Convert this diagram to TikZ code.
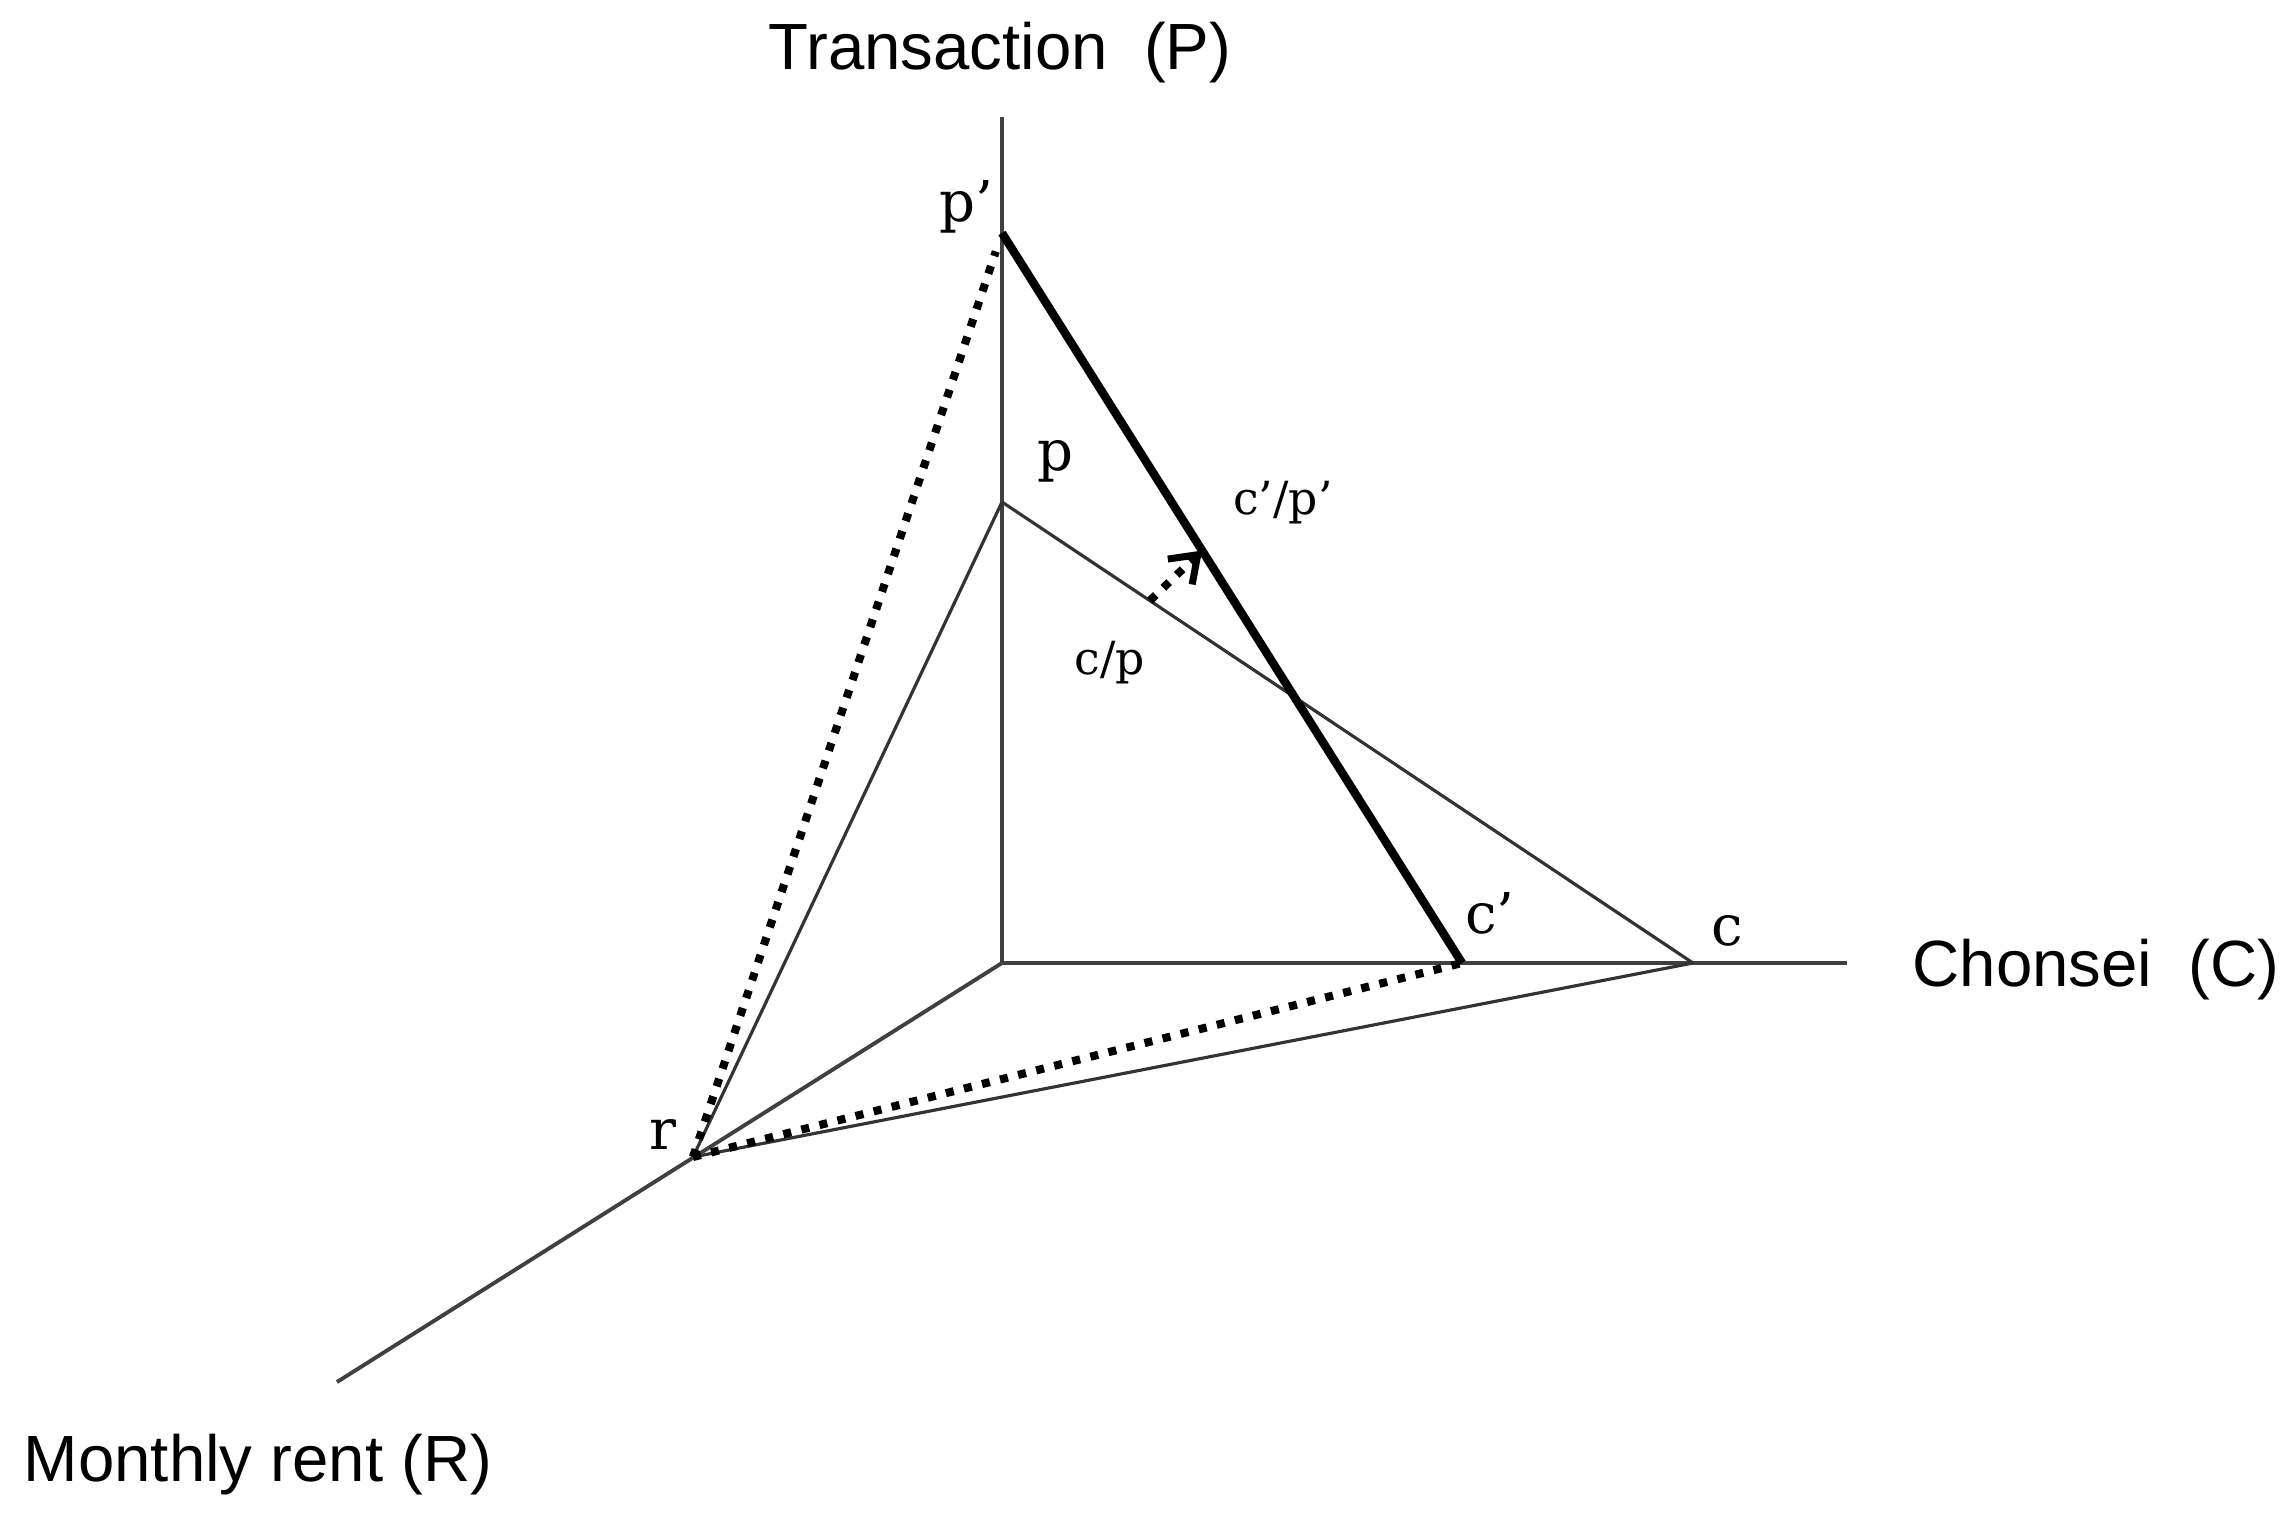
\documentclass[tikz,border=0pt]{standalone}
\usepackage{fontspec}
\setmainfont{Liberation Sans}
\newfontfamily\letterfont{DejaVu Serif}
\usetikzlibrary{arrows.meta, calc}
\tikzset{
  axisline/.style  = {black!75, line width=1.1pt},
  thinline/.style  = {black!80, line width=0.9pt},
  thickline/.style = {black, line width=2.4pt, line join=round},
  dotline/.style   = {black, line width=2.3pt, dash pattern=on 2.3pt off 3pt},
  shiftarrow/.style= {dotline, -{Straight Barb[length=7pt, width=10pt, line width=2pt]}},
  axlabel/.style   = {font=\fontsize{18.6}{22}\selectfont, inner sep=0pt},
  ptlabel/.style   = {font=\letterfont\fontsize{16}{18}\selectfont, inner sep=0pt},
  ratiolabel/.style= {font=\letterfont\fontsize{13}{15}\selectfont, inner sep=0pt},
}
\begin{document}
\begin{tikzpicture}
\useasboundingbox (0,0) rectangle (22.88,15.23);

% ================= axes =================
\coordinate (O)    at (10.02, 5.60);
\coordinate (Ptop) at (10.02, 14.06);
\coordinate (Cend) at (18.47, 5.60);
\coordinate (Rend) at (3.37, 1.41);

% ================= points on the axes =================
\coordinate (pp) at (10.02, 12.90);
\coordinate (p)  at (10.02, 10.21);
\coordinate (cp) at (14.62, 5.60);
\coordinate (c)  at (16.93, 5.60);
\coordinate (r)  at (6.93, 3.66);

\draw [axisline] (O) -- (Ptop);
\draw [axisline] (O) -- (Cend);
\draw [axisline] (O) -- (Rend);

\node (ptrans) [axlabel] at (10.00, 14.70) {Transaction\ \ (P)};
\node (chonsei) [axlabel] at (20.96, 5.53) {Chonsei\ \ (C)};
\node (mrent) [axlabel] at (2.58, 0.58) {Monthly rent (R)};

% ================= old plane =================
\draw [thinline] (r) -- (p);
\draw [thinline] (r) -- (c);
\draw [thinline] (p) -- (c);

% ================= new plane =================
\draw [dotline] (r) -- ($(pp)!0.02!(r)$);
\draw [dotline] (r) -- (cp);
\draw [thickline] (pp) -- (cp);

% shift of the ratio
\coordinate (shiftfrom) at ($(p)!0.214!(c)$);
\coordinate (shiftto)   at ($(pp)!0.435!(cp)$);
\draw [shiftarrow] (shiftfrom) -- (shiftto);

% ================= labels =================
\node (lpp) [ptlabel] at (9.66, 13.16) {p’};
\node (lp)  [ptlabel] at (10.55, 10.62) {p};
\node (lcp) [ptlabel] at (14.90, 6.10) {c’};
\node (lc)  [ptlabel] at (17.27, 5.92) {c};
\node (lr)  [ptlabel] at (6.63, 3.88) {r};
\node (lratiop) [ratiolabel] at (12.83, 10.20) {c’/p’};
\node (lratio)  [ratiolabel] at (11.10, 8.60) {c/p};

\end{tikzpicture}
\end{document}
